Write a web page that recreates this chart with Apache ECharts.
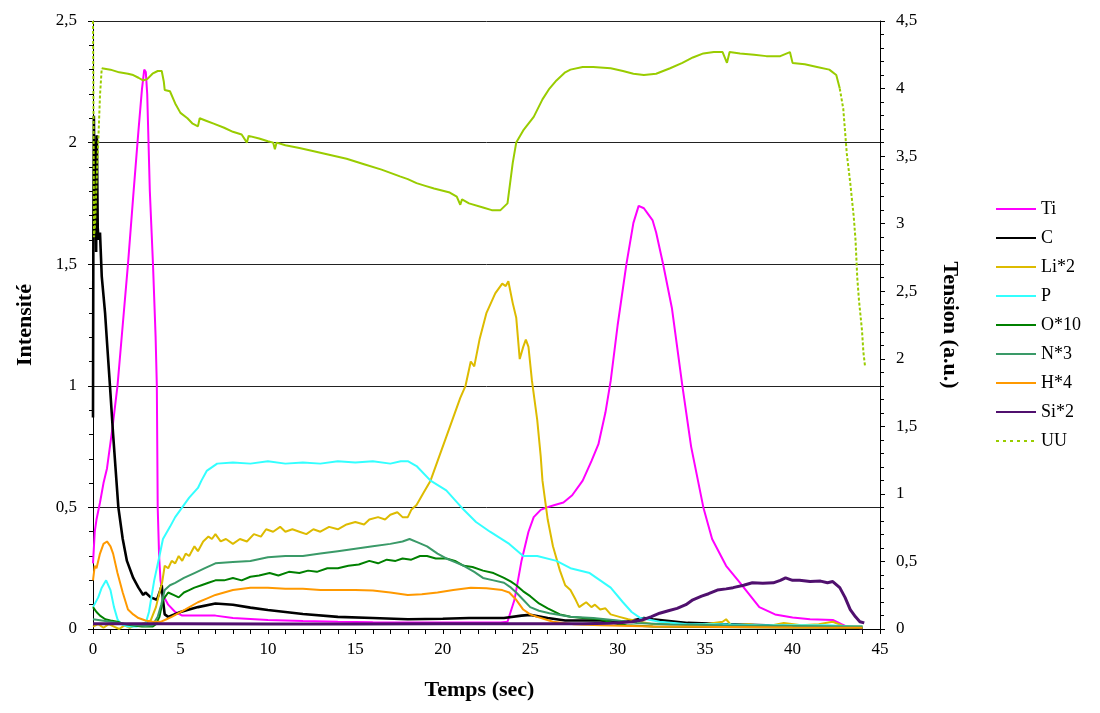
<!DOCTYPE html>
<html>
<head>
<meta charset="utf-8">
<script src="https://cdn.jsdelivr.net/npm/echarts@6/dist/echarts.min.js"></script>
<style>
html,body{margin:0;padding:0;background:#fff;}
#chart{width:1100px;height:713px;}
</style>
</head>
<body>
<div id="chart"></div>
<script>
// ---- Data (time in sec, value) ----
const seriesNames = ['Ti','C','Li*2','P','O*10','N*3','H*4','Si*2','UU'];

const tiData = [[0,0.27],[0.1,0.4],[0.2,0.45],[0.4,0.52],[0.6,0.6],[0.8,0.66],[1.1,0.82],[1.4,1.0],[1.7,1.25],[2.0,1.5],[2.3,1.78],[2.6,2.05],[2.8,2.22],[2.93,2.3],[3.02,2.29],[3.1,2.2],[3.25,1.8],[3.43,1.5],[3.58,1.2],[3.65,1.0],[3.7,0.5],[3.78,0.3],[3.86,0.2],[4.0,0.14],[4.3,0.1],[4.7,0.07],[5.1,0.055],[6,0.055],[7,0.055],[8,0.045],[10,0.037],[12,0.033],[14,0.03],[16,0.028],[18,0.027],[20,0.027],[22,0.027],[23.3,0.027],[23.7,0.03],[24.1,0.12],[24.5,0.28],[24.9,0.4],[25.2,0.46],[25.6,0.49],[25.95,0.5],[26.4,0.51],[26.9,0.52],[27.4,0.55],[28.0,0.61],[28.5,0.69],[28.9,0.76],[29.3,0.89],[29.6,1.02],[30.0,1.25],[30.5,1.5],[30.9,1.67],[31.2,1.74],[31.5,1.73],[31.7,1.71],[32.0,1.68],[32.2,1.63],[32.6,1.5],[33.1,1.32],[33.7,1.0],[34.2,0.75],[34.9,0.5],[35.4,0.37],[36.2,0.26],[37.0,0.19],[38.1,0.09],[39,0.06],[40,0.047],[41,0.04],[42.3,0.037],[42.8,0.02],[43.1,0.01],[43.5,0.005],[44,0.003]];

const cData = [[0,0.87],[0.02,1.6],[0.05,2.11],[0.1,1.7],[0.14,2.0],[0.18,1.55],[0.22,2.03],[0.27,1.65],[0.32,1.6],[0.4,1.63],[0.5,1.45],[0.69,1.3],[0.8,1.18],[0.97,1.0],[1.15,0.8],[1.45,0.5],[1.7,0.37],[1.94,0.28],[2.3,0.21],[2.6,0.17],[2.87,0.14],[3.0,0.15],[3.3,0.13],[3.65,0.12],[3.85,0.16],[3.93,0.18],[4.0,0.12],[4.1,0.06],[4.3,0.05],[5,0.07],[6,0.09],[7,0.105],[8,0.1],[9,0.088],[10,0.078],[12,0.062],[14,0.05],[16,0.045],[18,0.04],[20,0.042],[21.5,0.045],[23.5,0.045],[24.5,0.055],[25,0.058],[26,0.045],[27,0.035],[29,0.035],[30.5,0.03],[31.5,0.045],[32,0.04],[34,0.025],[36,0.02],[40,0.012],[43.5,0.006],[44,0.005]];

const liData = [[0,0.01],[0.3,0.02],[0.6,0.005],[0.9,0.02],[1.2,0.01],[1.5,0.0],[1.8,0.015],[2.1,0.005],[2.4,0.015],[2.7,0.02],[3.0,0.025],[3.3,0.035],[3.6,0.09],[3.8,0.15],[3.95,0.19],[4.1,0.26],[4.3,0.25],[4.5,0.28],[4.7,0.27],[4.9,0.3],[5.1,0.28],[5.3,0.31],[5.5,0.3],[5.8,0.34],[6.0,0.32],[6.3,0.36],[6.6,0.38],[6.8,0.37],[7.0,0.39],[7.3,0.36],[7.6,0.37],[8.0,0.35],[8.4,0.37],[8.8,0.36],[9.2,0.39],[9.6,0.38],[9.9,0.41],[10.3,0.4],[10.7,0.42],[11.0,0.4],[11.4,0.41],[11.8,0.4],[12.2,0.39],[12.6,0.41],[13.0,0.4],[13.5,0.42],[14.0,0.41],[14.5,0.43],[15.0,0.44],[15.5,0.43],[15.8,0.45],[16.3,0.46],[16.7,0.45],[17.0,0.47],[17.4,0.48],[17.7,0.46],[18.0,0.46],[18.2,0.49],[18.5,0.51],[18.9,0.56],[19.3,0.61],[19.7,0.69],[20.2,0.79],[20.6,0.87],[21.0,0.95],[21.3,1.0],[21.6,1.1],[21.8,1.08],[22.1,1.19],[22.5,1.3],[23.0,1.38],[23.4,1.42],[23.6,1.41],[23.75,1.43],[24.0,1.34],[24.2,1.28],[24.4,1.11],[24.6,1.16],[24.75,1.19],[24.9,1.16],[25.1,1.02],[25.4,0.86],[25.6,0.71],[25.7,0.61],[26.0,0.45],[26.3,0.34],[26.7,0.24],[27.0,0.18],[27.3,0.16],[27.6,0.12],[27.8,0.09],[28.0,0.1],[28.2,0.11],[28.5,0.09],[28.7,0.1],[29.0,0.08],[29.3,0.085],[29.6,0.06],[30.1,0.05],[30.6,0.04],[31.3,0.03],[32,0.02],[33,0.025],[34,0.015],[35,0.02],[36,0.03],[36.2,0.04],[36.5,0.015],[37.5,0.02],[38.5,0.01],[39.5,0.025],[40.5,0.015],[41.5,0.02],[42.3,0.03],[43,0.01],[44,0.01]];

const pData = [[0,0.09],[0.3,0.13],[0.5,0.17],[0.75,0.2],[1.0,0.16],[1.2,0.09],[1.4,0.04],[1.6,0.02],[2.0,0.01],[2.5,0.01],[3.0,0.02],[3.2,0.07],[3.5,0.2],[3.8,0.3],[4.0,0.37],[4.4,0.42],[4.7,0.46],[5.1,0.5],[5.5,0.54],[6.0,0.58],[6.2,0.61],[6.5,0.65],[7.1,0.68],[8,0.685],[9,0.68],[10,0.69],[11,0.68],[12,0.685],[13,0.68],[14,0.69],[15,0.685],[16,0.69],[17,0.68],[17.6,0.69],[18,0.69],[18.5,0.67],[19.3,0.61],[20.2,0.57],[21.2,0.49],[21.9,0.44],[22.7,0.4],[23.8,0.35],[24.6,0.3],[25.4,0.3],[26.5,0.28],[27.3,0.25],[28.4,0.23],[29.0,0.2],[29.6,0.17],[30.3,0.11],[30.8,0.07],[31.3,0.045],[32.4,0.03],[34,0.02],[36,0.02],[38,0.015],[40,0.015],[42,0.015],[43.5,0.01],[44,0.01]];

const oData = [[0,0.09],[0.2,0.07],[0.4,0.055],[0.7,0.04],[1.0,0.035],[1.4,0.03],[1.8,0.02],[2.2,0.015],[2.8,0.01],[3.4,0.01],[3.6,0.02],[3.8,0.05],[4.0,0.12],[4.3,0.15],[4.6,0.14],[4.9,0.13],[5.2,0.15],[5.5,0.16],[5.8,0.17],[6.2,0.18],[6.6,0.19],[7.0,0.2],[7.5,0.2],[8,0.21],[8.5,0.2],[9,0.215],[9.5,0.22],[10.1,0.23],[10.6,0.22],[11.2,0.235],[11.8,0.23],[12.3,0.24],[12.8,0.235],[13.4,0.25],[14,0.25],[14.6,0.26],[15.2,0.265],[15.8,0.28],[16.3,0.27],[16.8,0.285],[17.3,0.28],[17.7,0.29],[18.2,0.285],[18.7,0.3],[19.1,0.3],[19.6,0.29],[20.2,0.29],[20.7,0.28],[21.2,0.26],[21.7,0.255],[22.3,0.24],[22.9,0.23],[23.5,0.21],[23.9,0.195],[24.2,0.18],[24.6,0.155],[25.0,0.135],[25.5,0.105],[26,0.085],[26.7,0.06],[27.3,0.05],[28,0.045],[29,0.04],[30,0.02],[30.5,0.015],[32,0.01],[35,0.008],[40,0.006],[44,0.005]];

const nData = [[0,0.04],[0.5,0.035],[1,0.03],[1.5,0.025],[2,0.02],[2.5,0.015],[3,0.012],[3.4,0.015],[3.7,0.05],[3.9,0.1],[4.1,0.16],[4.4,0.18],[4.7,0.19],[5.2,0.21],[5.8,0.23],[6.4,0.25],[7,0.27],[8,0.275],[9,0.28],[10,0.295],[11,0.3],[12,0.3],[13,0.31],[14,0.32],[15,0.33],[16,0.34],[17,0.35],[17.7,0.36],[18.1,0.37],[18.6,0.355],[19.1,0.34],[19.7,0.31],[20.2,0.29],[20.7,0.275],[21.2,0.26],[21.8,0.235],[22.3,0.21],[22.9,0.2],[23.5,0.19],[23.9,0.17],[24.2,0.15],[24.6,0.12],[25,0.09],[25.5,0.075],[26.1,0.065],[27.3,0.05],[28.6,0.045],[30,0.035],[31.1,0.025],[33,0.018],[36,0.015],[40,0.012],[44,0.01]];

const hData = [[0,0.2],[0.1,0.26],[0.2,0.25],[0.4,0.31],[0.6,0.35],[0.8,0.36],[1.0,0.34],[1.15,0.31],[1.4,0.23],[1.7,0.15],[2.0,0.08],[2.3,0.06],[2.6,0.045],[3.0,0.035],[3.4,0.03],[3.9,0.03],[4.2,0.04],[4.5,0.05],[5.26,0.08],[6,0.11],[6.5,0.125],[7,0.14],[8,0.16],[9,0.17],[10,0.17],[11,0.165],[12,0.165],[13,0.16],[14,0.16],[15,0.16],[16,0.158],[17,0.15],[18,0.14],[18.8,0.143],[19.7,0.15],[20.6,0.16],[21.6,0.17],[22.5,0.168],[23.4,0.16],[23.8,0.15],[24.2,0.12],[24.6,0.08],[25,0.06],[25.4,0.05],[26.3,0.03],[27.5,0.02],[29,0.015],[32,0.01],[36,0.008],[40,0.006],[44,0.005]];

const siData = [[0,0.022],[5,0.022],[10,0.021],[15,0.021],[20,0.022],[25,0.022],[28,0.022],[29.5,0.024],[30.1,0.026],[30.8,0.03],[31.4,0.037],[31.9,0.05],[32.4,0.065],[32.9,0.075],[33.4,0.085],[33.9,0.1],[34.3,0.12],[34.8,0.135],[35.2,0.145],[35.7,0.16],[36.2,0.165],[36.6,0.17],[37.2,0.18],[37.7,0.19],[38.3,0.188],[38.9,0.19],[39.3,0.2],[39.6,0.21],[40.0,0.2],[40.4,0.2],[41.0,0.195],[41.6,0.197],[42.0,0.19],[42.3,0.195],[42.7,0.17],[43.0,0.13],[43.3,0.08],[43.6,0.05],[43.85,0.03],[44.1,0.025]];

// UU on the right axis (Tension, a.u.)
const uuData = [[0,4.5],[0.03,3.8],[0.06,2.9],[0.12,3.0],[0.2,3.3],[0.3,3.6],[0.4,3.95],[0.5,4.15],[0.6,4.16],[1.0,4.14],[1.5,4.12],[2.0,4.11],[2.3,4.1],[2.6,4.08],[2.86,4.06],[3.1,4.07],[3.4,4.11],[3.7,4.13],[3.93,4.13],[4.05,4.05],[4.1,3.99],[4.4,3.98],[4.7,3.89],[5.0,3.82],[5.4,3.78],[5.7,3.74],[6.0,3.72],[6.1,3.78],[6.5,3.76],[6.9,3.74],[7.5,3.71],[8.0,3.68],[8.5,3.66],[8.8,3.6],[8.9,3.65],[9.5,3.63],[10.0,3.61],[10.3,3.6],[10.4,3.55],[10.5,3.6],[11.0,3.58],[11.8,3.56],[12.5,3.54],[13.5,3.51],[14.5,3.48],[15.5,3.44],[16.5,3.4],[17.55,3.35],[18.0,3.33],[18.5,3.3],[19.0,3.28],[19.5,3.26],[20.4,3.23],[20.8,3.2],[21.0,3.14],[21.1,3.18],[21.5,3.15],[22.3,3.12],[22.8,3.1],[23.3,3.1],[23.7,3.15],[24.0,3.45],[24.2,3.6],[24.6,3.69],[25.2,3.79],[25.7,3.92],[26.1,4.0],[26.5,4.06],[27.0,4.12],[27.3,4.14],[28.0,4.16],[28.6,4.16],[29.6,4.15],[30.3,4.13],[30.9,4.11],[31.5,4.1],[32.2,4.11],[33.0,4.15],[33.7,4.19],[34.3,4.23],[34.9,4.26],[35.5,4.27],[36.0,4.27],[36.25,4.19],[36.4,4.27],[37.0,4.26],[37.8,4.25],[38.5,4.24],[39.3,4.24],[39.85,4.27],[40.0,4.19],[40.7,4.18],[41.4,4.16],[42.1,4.14],[42.5,4.1],[42.7,4.0],[42.9,3.85],[43.1,3.52],[43.3,3.3],[43.5,3.05],[43.6,2.88],[43.7,2.6],[43.8,2.43],[43.97,2.21],[44.05,2.05],[44.14,1.95]];

const xTicks = {min:0, max:45, interval:5};
const leftTicks = {min:0, max:2.5, interval:0.5};
const rightTicks = {min:0, max:4.5, interval:0.5};

const colors = {
  'Ti':'#FF00FF','C':'#000000','Li*2':'#DDBB00','P':'#33FFFF','O*10':'#008000',
  'N*3':'#3A9A68','H*4':'#FF9900','Si*2':'#50106E','UU':'#99CC00'
};
const widths = {'Ti':2,'C':2.6,'Li*2':2,'P':2,'O*10':2,'N*3':2,'H*4':2,'Si*2':3,'UU':2};
const dataMap = {'Ti':tiData,'C':cData,'Li*2':liData,'P':pData,'O*10':oData,'N*3':nData,'H*4':hData,'Si*2':siData};

// UU: steep parts dotted, body solid (as in the original Excel rendering)
const uuSteepStart = 0.5, uuSteepEnd = 42.7;
const uuBody = uuData.map(p => (p[0] >= uuSteepStart && p[0] <= uuSteepEnd) ? p : [p[0], null]);
const uuDotted = uuData.map(p => (p[0] <= uuSteepStart || p[0] >= uuSteepEnd) ? p : [p[0], null]);

const FONT = "'Liberation Serif','Times New Roman',serif";
const comma = v => String(v).replace('.', ',');

const series = [];
seriesNames.slice(0, 8).forEach(n => {
  series.push({
    name:n, type:'line', data:dataMap[n], yAxisIndex:0,
    symbol:'none', showSymbol:false, animation:false,
    lineStyle:{color:colors[n], width:widths[n]}, itemStyle:{color:colors[n]}
  });
});
series.push({
  name:'UU', type:'line', data:uuDotted, yAxisIndex:1, connectNulls:false,
  symbol:'none', showSymbol:false, animation:false,
  lineStyle:{color:colors['UU'], width:2, type:[3,2]}, itemStyle:{color:colors['UU']}
});
series.push({
  name:'UU', type:'line', data:uuBody, yAxisIndex:1, connectNulls:false,
  symbol:'none', showSymbol:false, animation:false,
  lineStyle:{color:colors['UU'], width:2}, itemStyle:{color:colors['UU']}
});

const chart = echarts.init(document.getElementById('chart'), null, {renderer:'canvas'});
chart.setOption({
  backgroundColor:'#ffffff',
  animation:false,
  textStyle:{fontFamily:FONT},
  grid:{left:93, right:220, top:21, bottom:84, containLabel:false},
  legend:{
    orient:'vertical', left:990, top:194,
    itemWidth:40, itemHeight:12, itemGap:9,
    itemStyle:{opacity:0, borderWidth:0},
    textStyle:{fontFamily:FONT, fontSize:18, color:'#000', lineHeight:20},
    data: seriesNames.map(n => n === 'UU'
      ? {name:n, lineStyle:{type:[3,4], width:2, color:colors[n]}}
      : {name:n})
  },
  xAxis:{
    type:'value', min:xTicks.min, max:xTicks.max, interval:xTicks.interval,
    name:'Temps (sec)', nameLocation:'middle', nameGap:50,
    nameTextStyle:{fontFamily:FONT, fontSize:22, fontWeight:'bold', color:'#000', padding:[0,14,0,0]},
    axisLine:{show:true, onZero:false, lineStyle:{color:'#000', width:1}},
    axisTick:{show:true, length:5, lineStyle:{color:'#000'}},
    minorTick:{show:true, splitNumber:5, length:5, lineStyle:{color:'#000'}},
    axisLabel:{fontFamily:FONT, fontSize:17, color:'#000', margin:12},
    splitLine:{show:false}
  },
  yAxis:[{
    type:'value', position:'left', min:leftTicks.min, max:leftTicks.max, interval:leftTicks.interval,
    name:'Intensité', nameLocation:'middle', nameGap:57, nameRotate:90,
    nameTextStyle:{fontFamily:FONT, fontSize:22, fontWeight:'bold', color:'#000'},
    axisLine:{show:true, lineStyle:{color:'#000', width:1}},
    axisTick:{show:true, length:5, lineStyle:{color:'#000'}},
    minorTick:{show:true, splitNumber:5, length:4, lineStyle:{color:'#000'}},
    axisLabel:{fontFamily:FONT, fontSize:17, color:'#000', margin:16, formatter:comma},
    splitLine:{show:true, lineStyle:{color:'#222', width:1}}
  },{
    type:'value', position:'right', min:rightTicks.min, max:rightTicks.max, interval:rightTicks.interval,
    name:'Tension (a.u.)', nameLocation:'middle', nameGap:59, nameRotate:-90,
    nameTextStyle:{fontFamily:FONT, fontSize:22, fontWeight:'bold', color:'#000'},
    axisLine:{show:true, lineStyle:{color:'#000', width:1}},
    axisTick:{show:true, length:5, lineStyle:{color:'#000'}},
    minorTick:{show:true, splitNumber:5, length:4, lineStyle:{color:'#000'}},
    axisLabel:{fontFamily:FONT, fontSize:17, color:'#000', margin:16, formatter:comma},
    splitLine:{show:false}
  }],
  series: series
});
</script>
</body>
</html>
